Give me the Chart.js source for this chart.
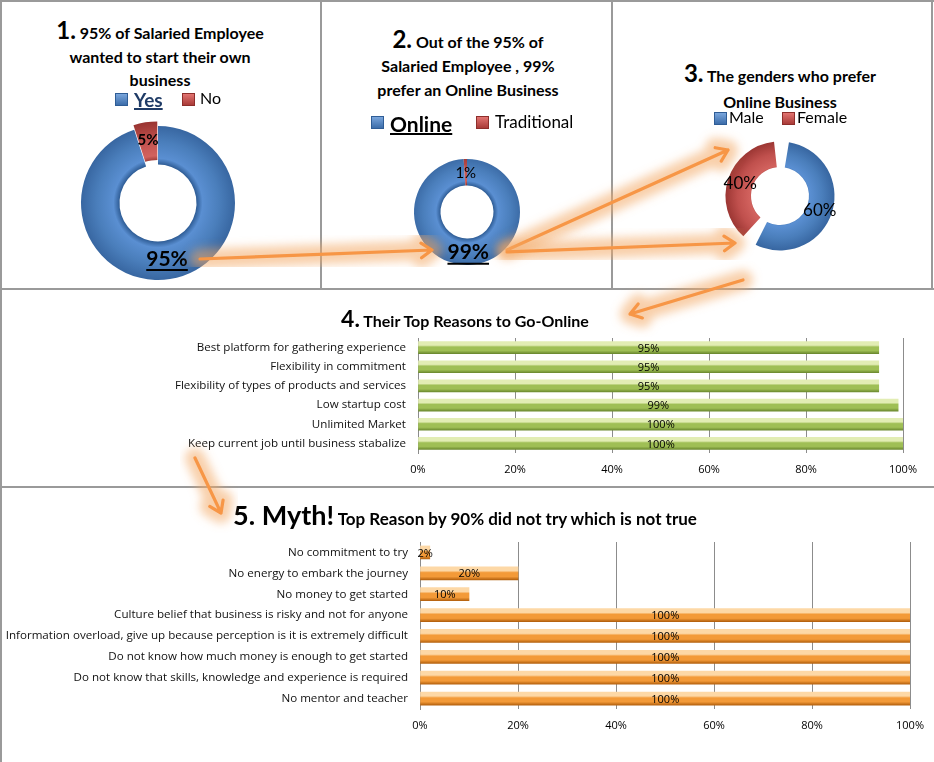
<!DOCTYPE html>
<html>
<head>
<meta charset="utf-8">
<script src="https://cdn.jsdelivr.net/npm/chart.js@4.4.0/dist/chart.umd.min.js"></script>
<style>
body { margin: 0; background: #fff; font-family: Lato, "Open Sans", sans-serif; }
#page { position: relative; width: 934px; height: 762px; overflow: hidden; }
.line { position: absolute; background: #9a9a9a; }
.title { position: absolute; text-align: center; font-weight: bold; color: #000; font-size: 16px; white-space: nowrap; }
.num { font-size: 24px; }
.leg { position: absolute; white-space: nowrap; color: #000; }
.sq { position: absolute; width: 11px; height: 11px; }
.blue { background: linear-gradient(#7aa6dc, #3c6daa); border: 1px solid #2f5d96; }
.red { background: linear-gradient(#e27471, #a93b38); border: 1px solid #8e2e2b; }
canvas { position: absolute; }
svg { position: absolute; left: 0; top: 0; pointer-events: none; }
</style>
</head>
<body>
<div id="page">
  <!-- panel frames -->
  <div class="line" style="left:0;top:0;width:934px;height:2px"></div>
  <div class="line" style="left:0;top:0;width:2px;height:762px"></div>
  <div class="line" style="left:320px;top:0;width:2px;height:289px"></div>
  <div class="line" style="left:611px;top:0;width:2px;height:289px"></div>
  <div class="line" style="left:931px;top:0;width:2px;height:289px"></div>
  <div class="line" style="left:0;top:288px;width:934px;height:2px"></div>
  <div class="line" style="left:0;top:486px;width:934px;height:2px"></div>

  <canvas id="ring1" width="200" height="200" style="left:58px;top:103px"></canvas>
  <canvas id="ring2" width="140" height="140" style="left:397px;top:142px"></canvas>
  <canvas id="ring3" width="140" height="140" style="left:710px;top:126px"></canvas>
  <canvas id="reasons" width="934" height="198" style="left:0;top:289px"></canvas>
  <canvas id="myths" width="934" height="275" style="left:0;top:487px"></canvas>

  <div class="title" style="left:20px;width:280px;top:18px;line-height:23.5px">
    <span class="num">1.</span> 95% of Salaried Employee<br>wanted to start their own<br>business</div>
  <div class="title" style="left:338px;width:260px;top:27px;line-height:24px">
    <span class="num">2.</span> Out of the 95% of<br>Salaried Employee , 99%<br>prefer an Online Business</div>
  <div class="title" style="left:650px;width:260px;top:60px;line-height:26px">
    <span class="num">3.</span> The genders who prefer<br>Online Business</div>
  <div class="title" style="left:215px;width:500px;top:303px;line-height:30px">
    <span class="num" style="font-size:23px">4.</span> Their Top Reasons to Go-Online</div>
  <div class="title" style="left:165px;width:600px;top:498px;line-height:34px;font-size:17px">
    <span class="num" style="font-size:27px">5. Myth!</span> Top Reason by 90% did not try which is not true</div>

  <div id="legends"></div>
  <svg width="934" height="762">
    <defs>
      <filter id="glow" x="-50%" y="-50%" width="200%" height="200%">
        <feGaussianBlur stdDeviation="5"/>
      </filter>
    </defs>
    <g id="arrows"></g>
  </svg>
</div>

<script>
// chart 1-3: doughnuts
var startLabels = ["Yes", "No"];
var startValues = [95, 5];
var typeLabels = ["Online", "Traditional"];
var typeValues = [99, 1];
var genderLabels = ["Male", "Female"];
var genderValues = [60, 40];

// chart 4: reasons to go online
var reasonLabels = [
  "Best platform for gathering experience",
  "Flexibility in commitment",
  "Flexibility of types of products and services",
  "Low startup cost",
  "Unlimited Market",
  "Keep current job until business stabalize"
];
var reasonValues = [95, 95, 95, 99, 100, 100];

// chart 5: myths
var mythLabels = [
  "No commitment to try",
  "No energy to embark the journey",
  "No money to get started",
  "Culture belief that business is risky and not for anyone",
  "Information overload, give up because perception is it is extremely difficult",
  "Do not know how much money is enough to get started",
  "Do not know that skills, knowledge and experience is required",
  "No mentor and teacher"
];
var mythValues = [2, 20, 10, 100, 100, 100, 100, 100];

Chart.defaults.font.family = "Lato";

var blueStops = ["#2f5d96", "#5a8fd2", "#4a7ebb", "#33609a"];
var redStops = ["#8e2e2b", "#d2625e", "#c0504d", "#93302d"];

// radial gradient so the rings look a bit like the excel bevel
function ringFill(radius, cut) {
  return function (c) {
    var stops = c.dataIndex === 0 ? blueStops : redStops;
    var area = c.chart.chartArea;
    if (!area) return stops[2];
    var cx = (area.left + area.right) / 2, cy = (area.top + area.bottom) / 2;
    var g = c.chart.ctx.createRadialGradient(cx, cy, radius * cut, cx, cy, radius + 12);
    g.addColorStop(0, stops[0]);
    g.addColorStop(0.12, stops[1]);
    g.addColorStop(0.45, stops[2]);
    g.addColorStop(0.85, stops[3]);
    g.addColorStop(1, stops[0]);
    return g;
  };
}

var ringLabels = {
  id: "ringLabels",
  afterDatasetsDraw: function (chart, args, opts) {
    var ctx = chart.ctx;
    var meta = chart.getDatasetMeta(0);
    ctx.save();
    ctx.textAlign = "center";
    ctx.textBaseline = "middle";
    meta.data.forEach(function (arc, i) {
      var p = arc.tooltipPosition();
      var text = chart.data.datasets[0].data[i] + "%";
      ctx.font = opts.fonts[i];
      ctx.fillStyle = "#000";
      ctx.fillText(text, p.x + (opts.dx ? opts.dx[i] : 0), p.y + (opts.dy ? opts.dy[i] : 0));
      if (opts.underline[i]) {
        var w = ctx.measureText(text).width;
        ctx.strokeStyle = "#000";
        ctx.lineWidth = 2;
        ctx.beginPath();
        var uy = p.y + (opts.dy ? opts.dy[i] : 0) + 11;
        ctx.moveTo(p.x - w / 2, uy);
        ctx.lineTo(p.x + w / 2, uy);
        ctx.stroke();
      }
    });
    ctx.restore();
  }
};

function ring(id, labels, values, radius, extra, labelOpts) {
  var ds = { data: values, backgroundColor: ringFill(radius, 0.5), borderWidth: 0 };
  for (var k in extra) ds[k] = extra[k];
  return new Chart(document.getElementById(id), {
    type: "doughnut",
    data: { labels: labels, datasets: [ds] },
    options: {
      responsive: false,
      animation: false,
      radius: radius,
      cutout: "50%",
      plugins: { legend: { display: false }, tooltip: { enabled: false }, ringLabels: labelOpts }
    },
    plugins: [ringLabels]
  });
}

ring("ring1", startLabels, startValues, 77, { offset: [0, 11] },
  { fonts: ["bold 21px Lato", "bold 15px Lato"], underline: [true, false], dy: [-1, 0] });
ring("ring2", typeLabels, typeValues, 53, {},
  { fonts: ["bold 21px Lato", "15px Lato"], underline: [true, false], dy: [1, 1] });
ring("ring3", genderLabels, genderValues, 51, { spacing: 7 },
  { fonts: ["17px Lato", "17px Lato"], underline: [false, false], dy: [2, 0] });

// legends built from the label arrays
var legendSpecs = [
  { labels: startLabels, y: 99, items: [
    { sq: 115, x: 134, font: "bold 19px Lato", u: true, color: "#1f3b66" },
    { sq: 182, x: 200, font: "16px Lato", u: false, color: "#000" }] },
  { labels: typeLabels, y: 122, items: [
    { sq: 371, x: 390, font: "bold 21px Lato", u: true, color: "#000" },
    { sq: 476, x: 495, font: "17px Lato", u: false, color: "#000" }] },
  { labels: genderLabels, y: 118, items: [
    { sq: 714, x: 729, font: "16px Lato", u: false, color: "#000" },
    { sq: 782, x: 797, font: "16px Lato", u: false, color: "#000" }] }
];
var legendBox = document.getElementById("legends");
legendSpecs.forEach(function (spec) {
  spec.items.forEach(function (it, i) {
    var s = document.createElement("div");
    s.className = "sq " + (i === 0 ? "blue" : "red");
    s.style.left = it.sq + "px";
    s.style.top = (spec.y - 6) + "px";
    legendBox.appendChild(s);
    var t = document.createElement("div");
    t.className = "leg";
    t.textContent = spec.labels[i];
    t.style.left = it.x + "px";
    t.style.top = (spec.y - 11) + "px";
    t.style.lineHeight = "22px";
    t.style.font = it.font;
    t.style.color = it.color;
    if (it.u) { t.style.textDecoration = "underline"; t.style.textDecorationThickness = "2px"; }
    legendBox.appendChild(t);
  });
});

// cylinder-ish gradient per bar
function barFill(light, mid, dark, half) {
  return function (c) {
    var chart = c.chart;
    var y = chart.scales.y;
    if (!chart.chartArea || !y || c.dataIndex === undefined) return mid;
    var py = y.getPixelForValue(c.dataIndex);
    var g = chart.ctx.createLinearGradient(0, py - half, 0, py + half);
    g.addColorStop(0, light);
    g.addColorStop(0.3, light);
    g.addColorStop(0.45, mid);
    g.addColorStop(0.75, mid);
    g.addColorStop(1, dark);
    return g;
  };
}

var barLabels = {
  id: "barLabels",
  afterDatasetsDraw: function (chart) {
    var ctx = chart.ctx;
    var meta = chart.getDatasetMeta(0);
    ctx.save();
    ctx.font = "11px 'Open Sans'";
    ctx.fillStyle = "#000";
    ctx.textAlign = "center";
    ctx.textBaseline = "middle";
    meta.data.forEach(function (bar, i) {
      ctx.fillText(chart.data.datasets[0].data[i] + "%", (bar.x + bar.base) / 2, bar.y + 1);
    });
    ctx.restore();
  }
};

function barChart(id, labels, values, fill, thick, yWidth, xHeight, pad) {
  return new Chart(document.getElementById(id), {
    type: "bar",
    data: { labels: labels, datasets: [{ data: values, backgroundColor: fill, barThickness: thick, borderWidth: 0 }] },
    options: {
      indexAxis: "y",
      responsive: false,
      animation: false,
      layout: { padding: pad },
      plugins: { legend: { display: false }, tooltip: { enabled: false } },
      scales: {
        x: {
          min: 0, max: 100,
          ticks: { stepSize: 20, padding: 10, color: "#000", font: { size: 11, family: "'Open Sans'" },
            callback: function (v) { return v + "%"; } },
          grid: { color: "#8c8c8c", drawTicks: false },
          border: { display: false },
          afterFit: function (s) { s.height = xHeight; }
        },
        y: {
          ticks: { padding: 12, color: "#111", autoSkip: false, font: { size: 11.6, family: "'Open Sans'" } },
          grid: { display: false, drawTicks: false },
          border: { display: true, color: "#8c8c8c" },
          afterFit: function (s) { s.width = yWidth; }
        }
      }
    },
    plugins: [barLabels]
  });
}

barChart("reasons", reasonLabels, reasonValues, barFill("#e2edb4", "#9fbf55", "#6c8a30", 6), 12, 418, 24,
  { left: 0, right: 31, top: 49, bottom: 10 });
barChart("myths", mythLabels, mythValues, barFill("#fdd8a6", "#f39a38", "#b5620f", 6.5), 13, 420, 30,
  { left: 0, right: 23, top: 55, bottom: 23 });

// decorative orange arrows [x1, y1, x2, y2]
var arrows = [
  [200, 259, 432, 250],
  [507, 250, 728, 150],
  [507, 252, 735, 243],
  [743, 280, 630, 314],
  [195, 458, 221, 513]
];
var NS = "http://www.w3.org/2000/svg";
var g = document.getElementById("arrows");
function el(name, attrs) {
  var e = document.createElementNS(NS, name);
  for (var k in attrs) e.setAttribute(k, attrs[k]);
  g.appendChild(e);
  return e;
}
arrows.forEach(function (a) {
  var ang = Math.atan2(a[3] - a[1], a[2] - a[0]);
  var len = 13, spread = 0.6;
  var h1 = [a[2] - len * Math.cos(ang - spread), a[3] - len * Math.sin(ang - spread)];
  var h2 = [a[2] - len * Math.cos(ang + spread), a[3] - len * Math.sin(ang + spread)];
  var d = "M" + a[0] + " " + a[1] + " L" + a[2] + " " + a[3] +
    " M" + h1[0] + " " + h1[1] + " L" + a[2] + " " + a[3] + " L" + h2[0] + " " + h2[1];
  el("path", { d: d, stroke: "#f2a764", "stroke-width": 20, "stroke-opacity": 0.55, fill: "none",
    "stroke-linecap": "round", "stroke-linejoin": "round", filter: "url(#glow)" });
  el("path", { d: d, stroke: "#f79646", "stroke-width": 3.2, fill: "none",
    "stroke-linecap": "round", "stroke-linejoin": "round" });
});
</script>
</body>
</html>
